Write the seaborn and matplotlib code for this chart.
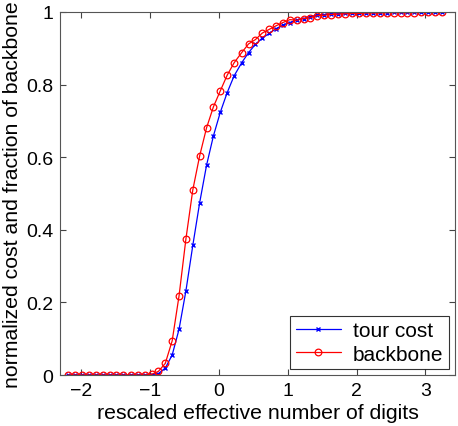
import matplotlib
matplotlib.use("Agg")
import matplotlib.pyplot as plt
import seaborn as sns

sns.set_style("ticks")
plt.rcParams["font.family"] = ["Liberation Sans", "DejaVu Sans"]
plt.rcParams["xtick.direction"] = "in"
plt.rcParams["ytick.direction"] = "in"
plt.rcParams["text.color"] = "black"
plt.rcParams["axes.labelcolor"] = "black"
plt.rcParams["xtick.labelcolor"] = "black"
plt.rcParams["ytick.labelcolor"] = "black"

x_digits = [-2.19, -2.09, -1.99, -1.89, -1.79, -1.69, -1.59, -1.49, -1.39, -1.28,
            -1.18, -1.08, -0.98, -0.88, -0.78, -0.68, -0.58, -0.48, -0.38, -0.28,
            -0.18, -0.08, 0.02, 0.12, 0.22, 0.33, 0.43, 0.53, 0.63, 0.73,
            0.83, 0.93, 1.03, 1.13, 1.23, 1.33, 1.43, 1.53, 1.63, 1.73,
            1.83, 1.93, 2.04, 2.14, 2.24, 2.34, 2.44, 2.54, 2.64, 2.74,
            2.84, 2.94, 3.04, 3.14, 3.24]

tour_cost = [0, 0, 0, 0, 0, 0, 0, 0, 0, 0,
             0, 0, 0.001, 0.004, 0.019, 0.055, 0.126, 0.232, 0.357, 0.475,
             0.578, 0.659, 0.724, 0.778, 0.824, 0.860, 0.888, 0.911, 0.928, 0.941,
             0.954, 0.964, 0.971, 0.978, 0.982, 0.987, 0.992, 0.993, 0.994, 0.995,
             0.996, 0.997, 0.997, 0.998, 0.998, 0.998, 0.998, 0.999, 0.999, 0.999,
             0.999, 0.999, 0.999, 1.0, 1.0]

backbone = [0, 0, 0, 0, 0, 0, 0, 0, 0, 0,
            0, 0, 0.002, 0.010, 0.032, 0.094, 0.218, 0.375, 0.510, 0.604,
            0.681, 0.739, 0.783, 0.826, 0.860, 0.888, 0.912, 0.924, 0.942, 0.952,
            0.962, 0.971, 0.979, 0.977, 0.982, 0.984, 0.990, 0.991, 0.993, 0.994,
            0.995, 0.996, 0.996, 0.997, 0.997, 0.997, 0.998, 0.998, 0.998, 0.998,
            0.998, 0.999, 0.999, 0.999, 0.999]

fig = plt.figure(figsize=(4.58, 4.27), dpi=100)
ax = fig.add_axes([0.131, 0.1194, 0.8624, 0.8502])

sns.lineplot(x=x_digits, y=tour_cost, ax=ax, color="blue", lw=0.9,
             marker="x", markersize=3.2, markeredgewidth=1,
             markeredgecolor="blue", label="tour cost")
sns.lineplot(x=x_digits, y=backbone, ax=ax, color="red", lw=0.9,
             marker="o", markersize=4.8, markerfacecolor="none",
             markeredgecolor="red", markeredgewidth=0.9, label="backbone")

ax.set_xlim(-2.31, 3.43)
ax.set_ylim(0, 1)
ax.set_xticks([-2, -1, 0, 1, 2, 3])
ax.set_xticklabels(["\u22122", "\u22121", "0", "1", "2", "3"])
ax.set_yticks([0, 0.2, 0.4, 0.6, 0.8, 1])
ax.set_yticklabels(["0", "0.2", "0.4", "0.6", "0.8", "1"])
ax.tick_params(labelsize=14, top=True, right=True, length=4, width=0.8,
               color="#444444", pad=5)
for s in ax.spines.values():
    s.set_visible(True)
    s.set_color("#555555")
    s.set_linewidth(0.8)

ax.set_xlabel("rescaled effective number of digits", fontsize=15.3, labelpad=3)
ax.set_ylabel("normalized cost and fraction of backbone", fontsize=15.3, labelpad=3)

leg = ax.legend(loc="lower right", fontsize=15, frameon=True, fancybox=False,
                edgecolor="black", borderaxespad=0.3, handlelength=2.2,
                borderpad=0.25, labelspacing=0.2, handletextpad=0.56)
leg.get_frame().set_linewidth(0.8)

fig.savefig("out.png", dpi=100)
